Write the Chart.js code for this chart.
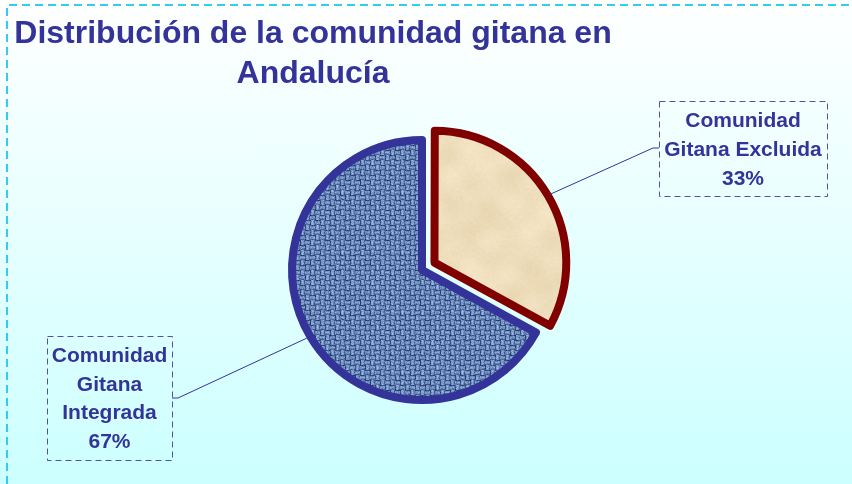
<!DOCTYPE html>
<html>
<head>
  <meta charset="utf-8">
  <title>Distribución de la comunidad gitana en Andalucía</title>
  <script src="https://cdn.jsdelivr.net/npm/chart.js"></script>
  <style>
    body {
      margin: 0;
      background: linear-gradient(#ffffff, #ccffff);
      width: 852px;
      height: 484px;
      overflow: hidden;
    }
    canvas { display: block; }
  </style>
</head>
<body>
  <canvas id="chart" width="852" height="484"></canvas>

  <script>
    const titleLines = ['Distribución de la comunidad gitana en', 'Andalucía'];
    const categories = ['Comunidad Gitana Excluida', 'Comunidad Gitana Integrada'];
    const labelLines = [['Comunidad', 'Gitana Excluida'], ['Comunidad', 'Gitana', 'Integrada']];
    const values = [33, 67];

    const ink = '#333399';
    const font = '"Liberation Sans", Arial, sans-serif';

    // cheap deterministic hash for the fill textures
    function hash(x, y) {
      const s = Math.sin(x * 12.9898 + y * 78.233) * 43758.5453;
      return s - Math.floor(s);
    }

    function weavePattern(ctx) {
      const size = 60;
      const c = document.createElement('canvas');
      c.width = c.height = size;
      const g = c.getContext('2d');
      const img = g.createImageData(size, size);
      for (let y = 0; y < size; y++) {
        for (let x = 0; x < size; x++) {
          const over = (Math.floor(x / 5) + Math.floor(y / 5)) % 2 === 0;
          const fx = x % 5, fy = y % 5;
          const edge = f => (f === 0 ? 0.05 : f === 4 ? 0.35 : f === 2 ? 1 : 0.8);
          const t = over ? edge(fx) : edge(fy) * 0.85;
          let v = t * 0.65 + hash(x, y) * 0.35;
          v = Math.max(0, Math.min(1, v));
          const i = (y * size + x) * 4;
          img.data[i] = 22 + v * 140;
          img.data[i + 1] = 48 + v * 145;
          img.data[i + 2] = 100 + v * 140;
          img.data[i + 3] = 255;
        }
      }
      g.putImageData(img, 0, 0);
      return ctx.createPattern(c, 'repeat');
    }

    function parchmentPattern(ctx) {
      const size = 120;
      const c = document.createElement('canvas');
      c.width = c.height = size;
      const g = c.getContext('2d');
      const img = g.createImageData(size, size);
      const a = Math.PI * 2 / size;
      for (let y = 0; y < size; y++) {
        for (let x = 0; x < size; x++) {
          let v = 0.6
                + 0.12 * Math.sin(x * a + 1.3 * Math.sin(y * a * 2)) * Math.cos(y * a + 0.7)
                + 0.08 * Math.sin(x * a * 3 + 2) * Math.sin(y * a * 2 + 1)
                + (hash(x, y) - 0.5) * 0.22;
          v = Math.max(0, Math.min(1, v));
          const i = (y * size + x) * 4;
          img.data[i] = 222 + v * 28;
          img.data[i + 1] = 198 + v * 40;
          img.data[i + 2] = 155 + v * 55;
          img.data[i + 3] = 255;
        }
      }
      g.putImageData(img, 0, 0);
      return ctx.createPattern(c, 'repeat');
    }

    const boxes = [
      { x: 659, y: 101, w: 168, h: 95, cx: 743, base: 127, step: 29, end: [653, 148], stub: [659, 148] },
      { x: 47, y: 336, w: 125, h: 124, cx: 109.5, base: 362, step: 28.5, end: [178, 398], stub: [172, 398] }
    ];

    const decor = {
      id: 'decor',
      beforeDraw(chart) {
        const ctx = chart.ctx;
        ctx.save();
        ctx.strokeStyle = '#33ccee';
        ctx.lineWidth = 2;
        ctx.setLineDash([8, 5]);
        ctx.beginPath();
        ctx.moveTo(7, 484);
        ctx.lineTo(7, 5);
        ctx.lineTo(852, 5);
        ctx.stroke();
        ctx.restore();
      },
      afterDatasetsDraw(chart) {
        const ctx = chart.ctx;
        const arcs = chart.getDatasetMeta(0).data;
        ctx.save();
        arcs.forEach((arc, i) => {
          const b = boxes[i];
          const mid = (arc.startAngle + arc.endAngle) / 2;
          const shift = (arc.options.offset || 0) / 4;
          const r = shift + arc.outerRadius + arc.options.borderWidth / 2;
          const px = arc.x + Math.cos(mid) * r;
          const py = arc.y + Math.sin(mid) * r;

          ctx.strokeStyle = ink;
          ctx.lineWidth = 1;
          ctx.setLineDash([]);
          ctx.beginPath();
          ctx.moveTo(px, py);
          ctx.lineTo(b.end[0], b.end[1]);
          ctx.lineTo(b.stub[0], b.stub[1]);
          ctx.stroke();

          ctx.strokeStyle = '#5050a8';
          ctx.setLineDash([6, 4]);
          ctx.strokeRect(b.x + 0.5, b.y + 0.5, b.w, b.h);

          ctx.fillStyle = ink;
          ctx.font = 'bold 21px ' + font;
          ctx.textAlign = 'center';
          ctx.textBaseline = 'alphabetic';
          const lines = labelLines[i].concat([values[i] + '%']);
          lines.forEach((t, k) => ctx.fillText(t, b.cx, b.base + k * b.step));
        });

        ctx.font = 'bold 32px ' + font;
        ctx.textAlign = 'center';
        ctx.fillStyle = ink;
        titleLines.forEach((t, k) => ctx.fillText(t, 313, 43 + k * 40));
        ctx.restore();
      }
    };

    const canvas = document.getElementById('chart');
    const c2d = canvas.getContext('2d');

    new Chart(canvas, {
      type: 'pie',
      data: {
        labels: categories,
        datasets: [{
          data: values,
          backgroundColor: [parchmentPattern(c2d), weavePattern(c2d)],
          borderColor: ['#800000', '#333399'],
          borderWidth: 8,
          borderJoinStyle: 'round',
          offset: [58, 0]
        }]
      },
      options: {
        responsive: false,
        animation: false,
        radius: 130,
        layout: { padding: { left: 0, right: 8, top: 56, bottom: 0 } },
        plugins: {
          legend: { display: false },
          title: { display: false },
          tooltip: { enabled: false }
        }
      },
      plugins: [decor]
    });
  </script>
</body>
</html>
